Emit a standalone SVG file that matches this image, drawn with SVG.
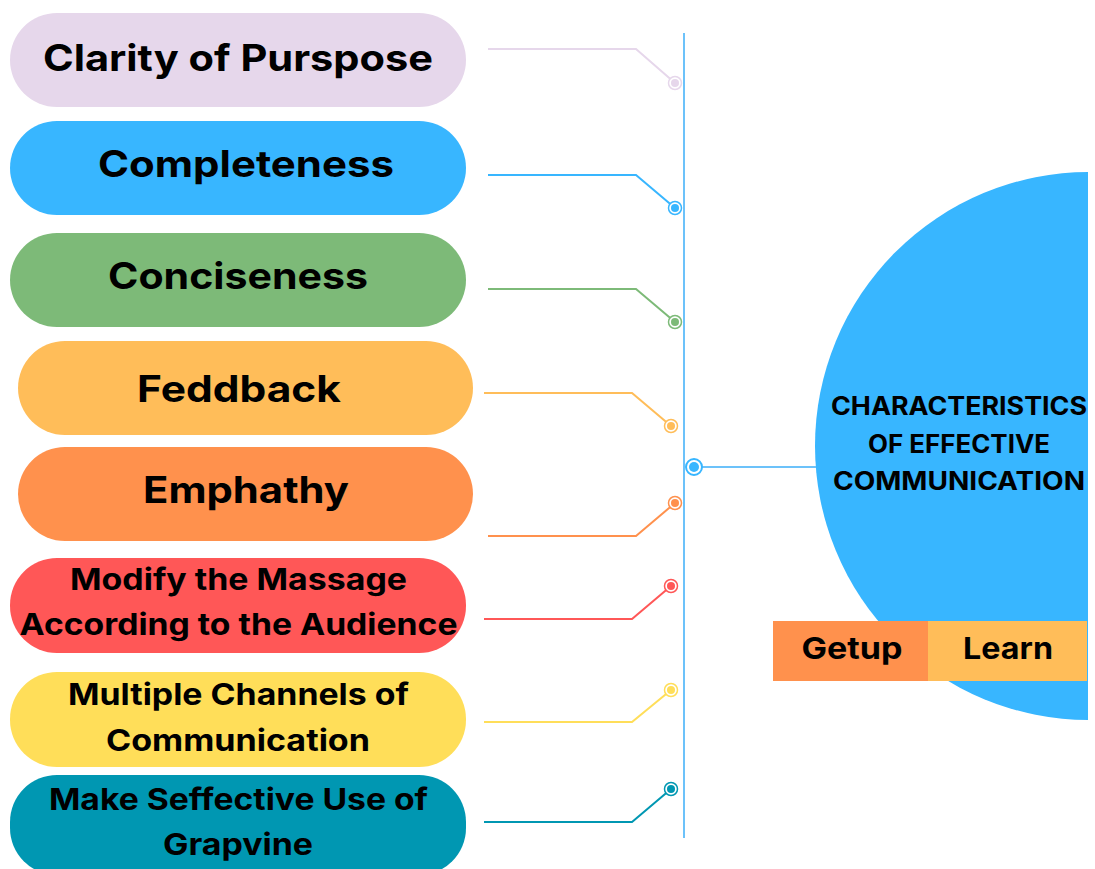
<svg xmlns="http://www.w3.org/2000/svg" width="1095" height="869" viewBox="0 0 1095 869">
<defs>
<style>
.t{font-family:Inter,"Open Sans","Liberation Sans",sans-serif;font-weight:700;fill:#000;text-anchor:middle}
.big{font-size:37px}
.mid{font-size:30px}
.c{font-size:25px}
.ln{fill:none;stroke-width:2}
</style>
<clipPath id="cp"><rect x="0" y="0" width="1088" height="869"/></clipPath>
</defs>
<rect width="1095" height="869" fill="#fff"/>
<g id="hub">
<circle cx="1089" cy="446" r="274" fill="#38b6ff" clip-path="url(#cp)"/>
<text class="t c" x="959" y="415" textLength="256" lengthAdjust="spacingAndGlyphs">CHARACTERISTICS</text>
<text class="t c" x="959" y="453" textLength="182" lengthAdjust="spacingAndGlyphs">OF EFFECTIVE</text>
<text class="t c" x="959" y="490" textLength="252" lengthAdjust="spacingAndGlyphs">COMMUNICATION</text>
</g>
<g id="getup"><rect x="773" y="621" width="155" height="60" fill="#ff914d"/><text class="t mid" x="852" y="659" textLength="101" lengthAdjust="spacingAndGlyphs">Getup</text></g>
<g id="learn"><rect x="928" y="621" width="159" height="60" fill="#ffbd59"/><text class="t mid" x="1008" y="659" textLength="90" lengthAdjust="spacingAndGlyphs">Learn</text></g>
<g id="n1"><rect x="10" y="13" width="456" height="94" rx="47" fill="#e6d7eb"/><text class="t big" x="238" y="71" textLength="390" lengthAdjust="spacingAndGlyphs">Clarity of Purspose</text></g>
<g id="n2"><rect x="10" y="121" width="456" height="94" rx="47" fill="#38b6ff"/><text class="t big" x="246" y="177" textLength="296" lengthAdjust="spacingAndGlyphs">Completeness</text></g>
<g id="n3"><rect x="10" y="233" width="456" height="94" rx="47" fill="#7dba78"/><text class="t big" x="238" y="289" textLength="260" lengthAdjust="spacingAndGlyphs">Conciseness</text></g>
<g id="n4"><rect x="18" y="341" width="455" height="94" rx="47" fill="#ffbd59"/><text class="t big" x="239" y="402" textLength="204" lengthAdjust="spacingAndGlyphs">Feddback</text></g>
<g id="n5"><rect x="18" y="447" width="455" height="94" rx="47" fill="#ff914d"/><text class="t big" x="246" y="503" textLength="206" lengthAdjust="spacingAndGlyphs">Emphathy</text></g>
<g id="n6"><rect x="10" y="558" width="456" height="95" rx="47" fill="#ff5757"/><text class="t mid" x="238.5" y="590" textLength="337" lengthAdjust="spacingAndGlyphs">Modify the Massage</text><text class="t mid" x="238.5" y="635" textLength="438" lengthAdjust="spacingAndGlyphs">According to the Audience</text></g>
<g id="n7"><rect x="10" y="672" width="456" height="95" rx="47" fill="#ffde59"/><text class="t mid" x="238.5" y="705" textLength="341" lengthAdjust="spacingAndGlyphs">Multiple Channels of</text><text class="t mid" x="238" y="751" textLength="264" lengthAdjust="spacingAndGlyphs">Communication</text></g>
<g id="n8"><rect x="10" y="775" width="456" height="100" rx="47" fill="#0097b2"/><text class="t mid" x="238.5" y="810" textLength="379" lengthAdjust="spacingAndGlyphs">Make Seffective Use of</text><text class="t mid" x="238" y="855" textLength="150" lengthAdjust="spacingAndGlyphs">Grapvine</text></g>
<g id="connectors">
<line x1="684" y1="33" x2="684" y2="838" stroke="#6cc2fa" stroke-width="2"/>
<line x1="694" y1="467" x2="816" y2="467" stroke="#6cc2fa" stroke-width="2"/>
<circle cx="694" cy="467" r="8" fill="#fff" stroke="#38b6ff" stroke-width="2"/><circle cx="694" cy="467" r="5" fill="#38b6ff"/>
<polyline class="ln" points="488,49 636,49 675,83" stroke="#e6d7eb"/>
<circle cx="675" cy="83" r="6.5" fill="#fff" stroke="#e6d7eb" stroke-width="1.5"/><circle cx="675" cy="83" r="4" fill="#e6d7eb"/>
<polyline class="ln" points="488,175 636,175 675,208" stroke="#38b6ff"/>
<circle cx="675" cy="208" r="6.5" fill="#fff" stroke="#38b6ff" stroke-width="1.5"/><circle cx="675" cy="208" r="4" fill="#38b6ff"/>
<polyline class="ln" points="488,289 636,289 675,322" stroke="#7dba78"/>
<circle cx="675" cy="322" r="6.5" fill="#fff" stroke="#7dba78" stroke-width="1.5"/><circle cx="675" cy="322" r="4" fill="#7dba78"/>
<polyline class="ln" points="484,393 632,393 671,426" stroke="#ffbd59"/>
<circle cx="671" cy="426" r="6.5" fill="#fff" stroke="#ffbd59" stroke-width="1.5"/><circle cx="671" cy="426" r="4" fill="#ffbd59"/>
<polyline class="ln" points="488,536 636,536 675,503" stroke="#ff914d"/>
<circle cx="675" cy="503" r="6.5" fill="#fff" stroke="#ff914d" stroke-width="1.5"/><circle cx="675" cy="503" r="4" fill="#ff914d"/>
<polyline class="ln" points="484,619 632,619 671,586" stroke="#ff5757"/>
<circle cx="671" cy="586" r="6.5" fill="#fff" stroke="#ff5757" stroke-width="1.5"/><circle cx="671" cy="586" r="4" fill="#ff5757"/>
<polyline class="ln" points="484,722 632,722 671,690" stroke="#ffde59"/>
<circle cx="671" cy="690" r="6.5" fill="#fff" stroke="#ffde59" stroke-width="1.5"/><circle cx="671" cy="690" r="4" fill="#ffde59"/>
<polyline class="ln" points="484,822 632,822 671,789" stroke="#0097b2"/>
<circle cx="671" cy="789" r="6.5" fill="#fff" stroke="#0097b2" stroke-width="1.5"/><circle cx="671" cy="789" r="4" fill="#0097b2"/>
</g>
</svg>
